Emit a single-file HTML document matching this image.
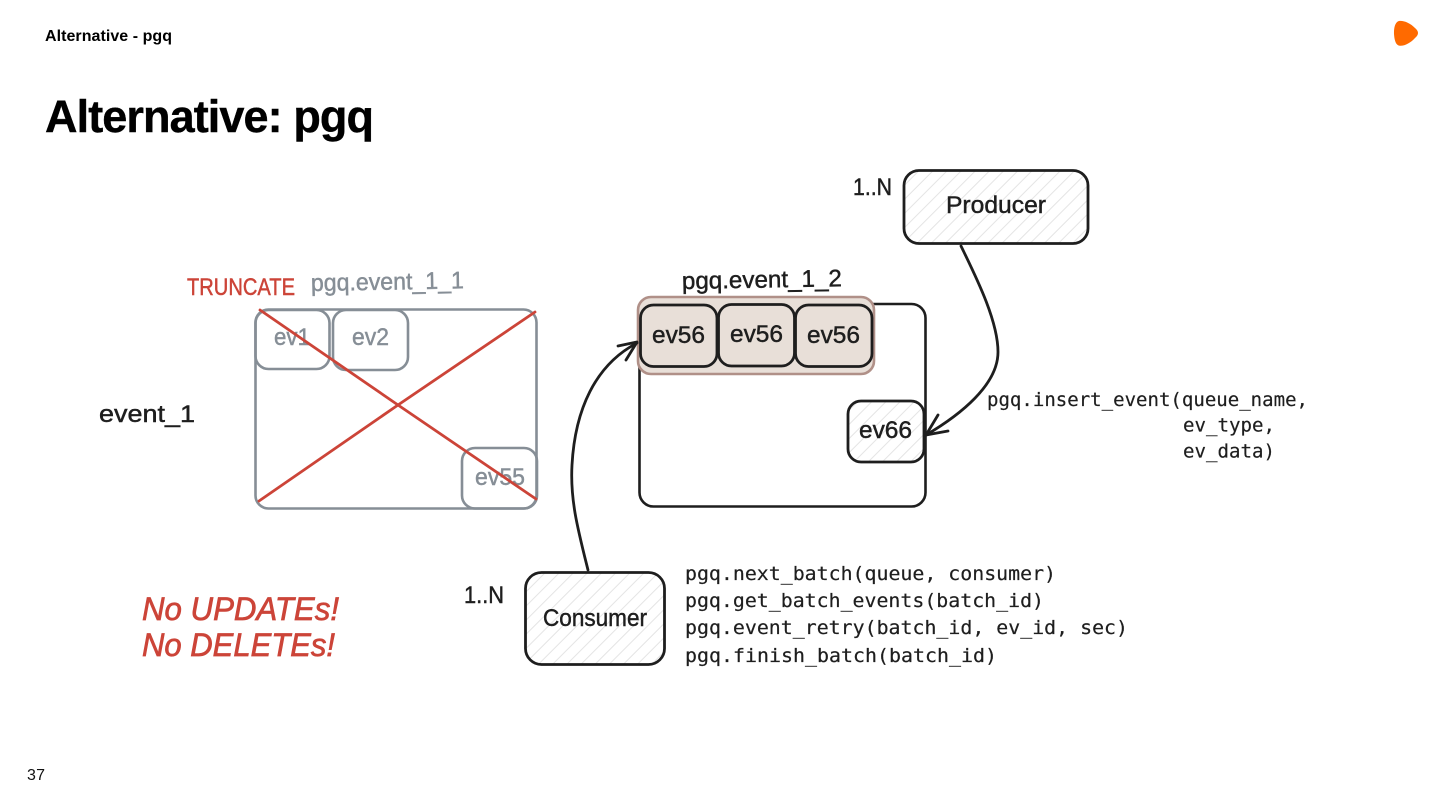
<!DOCTYPE html>
<html lang="en">
<head>
<meta charset="utf-8">
<title>Alternative: pgq</title>
<style>
html,body{margin:0;padding:0;width:1440px;height:810px;overflow:hidden;background:#fff}
svg{display:block}
text{font-family:"Liberation Sans",sans-serif}
.m{font-family:"DejaVu Sans Mono",monospace;font-size:19px;fill:#1e1e1e;stroke:#1e1e1e;stroke-width:.2px}
.h{font-size:24px;fill:#1e1e1e;stroke:#1e1e1e;stroke-width:.45px}
.g{fill:#868e96;stroke:#868e96}
.r{fill:#cc4438;stroke:#cc4438}
</style>
</head>
<body>
<svg width="1440" height="810" viewBox="0 0 1440 810" xmlns="http://www.w3.org/2000/svg">
<defs>
<pattern id="hatch" width="10" height="10" patternUnits="userSpaceOnUse" patternTransform="rotate(45)">
<line x1="0" y1="0" x2="0" y2="10" stroke="#e4e4e4" stroke-width="2"/>
</pattern>
</defs>
<rect width="1440" height="810" fill="#fff"/>

<text x="45" y="41" font-size="16" font-weight="700" fill="#000" textLength="127" lengthAdjust="spacing">Alternative - pgq</text>
<text x="45" y="132" font-size="45" font-weight="700" fill="#000" stroke="#000" stroke-width=".4" textLength="329" lengthAdjust="spacing">Alternative: pgq</text>
<text x="27" y="780" font-size="16" fill="#111" textLength="18" lengthAdjust="spacing">37</text>
<path d="M1399 21C1404 20.500 1410 23 1415 28C1419 31.500 1419 34.500 1415 38C1411 42.500 1405 46 1400 45.800C1396 45.500 1394.500 41 1394 34C1393.800 28 1395 22 1399 21Z" fill="#ff6a00"/>

<!-- Left table -->
<g fill="none" stroke="#868e96" stroke-width="2.600">
<rect x="255.500" y="309.500" width="281" height="199" rx="13"/>
<rect x="255.500" y="310" width="74" height="59" rx="13"/>
<rect x="333" y="310" width="75" height="60" rx="13"/>
<rect x="462" y="448" width="75" height="60.500" rx="13"/>
</g>
<text class="h g" x="274" y="345" textLength="36" lengthAdjust="spacingAndGlyphs">ev1</text>
<text class="h g" x="352" y="345" textLength="37" lengthAdjust="spacingAndGlyphs">ev2</text>
<text class="h g" x="475" y="485" textLength="50" lengthAdjust="spacingAndGlyphs">ev55</text>
<g fill="none" stroke="#cc4438" stroke-width="2.800" stroke-linecap="round">
<path d="M260 310L398 405L536 499"/>
<path d="M259 501L398 405L535 312"/>
</g>
<text class="h r" x="187" y="295" textLength="108" lengthAdjust="spacingAndGlyphs">TRUNCATE</text>
<text class="h g" x="311" y="291" textLength="153" lengthAdjust="spacingAndGlyphs" transform="rotate(-1 311 291)">pgq.event_1_1</text>
<text class="h" x="99" y="422" textLength="96" lengthAdjust="spacingAndGlyphs">event_1</text>

<!-- Right table -->
<rect x="639.500" y="304" width="286" height="202.500" rx="14" fill="#fff" stroke="#1e1e1e" stroke-width="2.600"/>
<rect x="638" y="297" width="236" height="77" rx="13" fill="#e8dfd8" stroke="#b09088" stroke-width="2.600"/>
<g fill="#e8dfd8" stroke="#1e1e1e" stroke-width="2.800">
<rect x="640.500" y="305" width="76.500" height="61.500" rx="13"/>
<rect x="718.500" y="304.500" width="76" height="61.500" rx="13"/>
<rect x="795.500" y="305" width="76.500" height="61.500" rx="13"/>
</g>
<text class="h" x="652" y="343" textLength="53" lengthAdjust="spacingAndGlyphs">ev56</text>
<text class="h" x="730" y="342" textLength="53" lengthAdjust="spacingAndGlyphs">ev56</text>
<text class="h" x="807" y="343" textLength="53" lengthAdjust="spacingAndGlyphs">ev56</text>
<text class="h" x="682" y="289" textLength="160" lengthAdjust="spacingAndGlyphs" transform="rotate(-1 682 289)">pgq.event_1_2</text>
<rect x="848" y="401" width="76" height="61" rx="13" fill="#fff"/>
<rect x="848" y="401" width="76" height="61" rx="13" fill="url(#hatch)" stroke="#1e1e1e" stroke-width="2.800"/>
<text class="h" x="859" y="438" textLength="53" lengthAdjust="spacingAndGlyphs">ev66</text>

<!-- Producer -->
<rect x="904" y="170.500" width="184" height="73" rx="15" fill="url(#hatch)" stroke="#1e1e1e" stroke-width="2.800"/>
<text class="h" x="946" y="213" textLength="100" lengthAdjust="spacingAndGlyphs">Producer</text>
<text class="h" x="853" y="195" textLength="39" lengthAdjust="spacingAndGlyphs">1..N</text>

<!-- Consumer -->
<rect x="525.500" y="572.500" width="139" height="92" rx="16" fill="url(#hatch)" stroke="#1e1e1e" stroke-width="2.800"/>
<text class="h" x="543" y="626" textLength="104" lengthAdjust="spacingAndGlyphs">Consumer</text>
<text class="h" x="464" y="603" textLength="40" lengthAdjust="spacingAndGlyphs">1..N</text>

<!-- Arrows -->
<g fill="none" stroke="#1e1e1e" stroke-width="2.800" stroke-linecap="round" stroke-linejoin="round">
<path d="M961 246C975 275 998 320 998 352C998 385 960 415 926 435"/>
<path d="M938 415L926 435L948 431"/>
<path d="M588 570C578 530 570 500 572 465C575 410 595 365 637 343"/>
<path d="M618 346L637 342L626 360"/>
</g>

<!-- Code -->
<text class="m" x="987" y="406" textLength="321" lengthAdjust="spacingAndGlyphs">pgq.insert_event(queue_name,</text>
<text class="m" x="1183" y="431.500" textLength="92" lengthAdjust="spacingAndGlyphs">ev_type,</text>
<text class="m" x="1183" y="457.500" textLength="92" lengthAdjust="spacingAndGlyphs">ev_data)</text>
<text class="m" x="685" y="580" textLength="371" lengthAdjust="spacingAndGlyphs">pgq.next_batch(queue, consumer)</text>
<text class="m" x="685" y="607" textLength="359" lengthAdjust="spacingAndGlyphs">pgq.get_batch_events(batch_id)</text>
<text class="m" x="685" y="634" textLength="443" lengthAdjust="spacingAndGlyphs">pgq.event_retry(batch_id, ev_id, sec)</text>
<text class="m" x="685" y="662" textLength="312" lengthAdjust="spacingAndGlyphs">pgq.finish_batch(batch_id)</text>

<!-- Red note -->
<text x="142" y="620" font-size="32" font-style="italic" class="r" stroke-width=".7" textLength="197" lengthAdjust="spacingAndGlyphs">No UPDATEs!</text>
<text x="142" y="656" font-size="32" font-style="italic" class="r" stroke-width=".7" textLength="193" lengthAdjust="spacingAndGlyphs">No DELETEs!</text>
</svg>
</body>
</html>
